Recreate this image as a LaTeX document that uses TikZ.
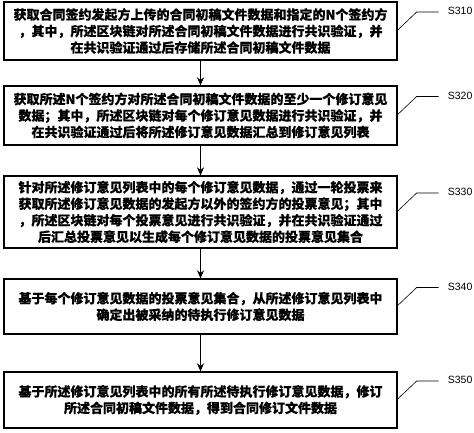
\documentclass[tikz,border=0pt]{standalone}
\usepackage{fontspec}
\setmainfont[FakeBold=0.35]{Noto Sans CJK SC}
\newfontfamily\labfont{Liberation Sans}
\usetikzlibrary{arrows.meta,calc}
\tikzset{
  stepbox/.style={draw=black, line width=1.3pt, minimum width=393pt, align=center,
    inner sep=0pt, font=\bfseries\fontsize{13}{16.5}\selectfont},
  flow/.style={line width=1.3pt, -{Stealth[length=8pt,width=7pt]}},
  leader/.style={line width=0.6pt},
  steplabel/.style={anchor=west, inner sep=0pt, font=\labfont\fontsize{10.5}{12}\selectfont}
}
\begin{document}
\begin{tikzpicture}[x=1pt,y=-1pt]
\useasboundingbox (0,0) rectangle (474,432);
\node[stepbox, minimum height=58pt] (b1) at (200.5,31) {获取合同签约发起方上传的合同初稿文件数据和指定的N个签约方\\，其中，所述区块链对所述合同初稿文件数据进行共识验证，并\\在共识验证通过后存储所述合同初稿文件数据};
\node[stepbox, minimum height=59pt] (b2) at (200.5,115.5) {获取所述N个签约方对所述合同初稿文件数据的至少一个修订意见\\数据；其中，所述区块链对每个修订意见数据进行共识验证，并\\在共识验证通过后将所述修订意见数据汇总到修订意见列表};
\node[stepbox, minimum height=72pt] (b3) at (200.5,212) {针对所述修订意见列表中的每个修订意见数据，通过一轮投票来\\获取所述修订意见数据的发起方以外的签约方的投票意见；其中\\，所述区块链对每个投票意见进行共识验证，并在共识验证通过\\后汇总投票意见以生成每个修订意见数据的投票意见集合};
\node[stepbox, minimum height=55pt] (b4) at (200.5,306.5) {基于每个修订意见数据的投票意见集合，从所述修订意见列表中\\确定出被采纳的待执行修订意见数据};
\node[stepbox, minimum height=56pt] (b5) at (200.5,400) {基于所述修订意见列表中的所有所述待执行修订意见数据，修订\\所述合同初稿文件数据，得到合同修订文件数据};
\draw[flow] (b1) -- (b2);
\draw[flow] (b2) -- (b3);
\draw[flow] (b3) -- (b4);
\draw[flow] (b4) -- (b5);
\foreach \b/\t in {b1/S310,b2/S320,b3/S330,b4/S340,b5/S350}{
  \draw[leader] ($(\b.east)+(-1,0)$) -- ++(20,-19) -- ++(22,0) coordinate (\b l);
  \node[steplabel] (\b t) at ($(\b l)+(9,-1)$) {\t};
}
\end{tikzpicture}
\end{document}
